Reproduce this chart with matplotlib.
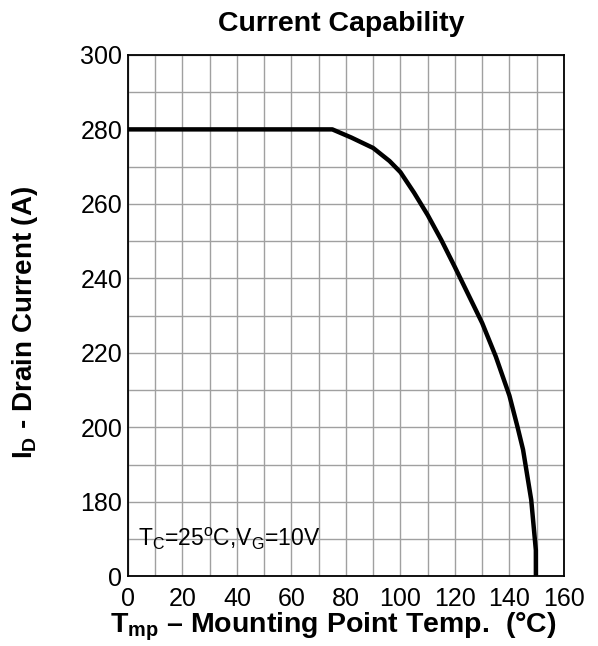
import numpy as np
import matplotlib

matplotlib.use("Agg")
import matplotlib.pyplot as plt

plt.rcParams["font.family"] = ["Liberation Sans", "DejaVu Sans"]
plt.rcParams["mathtext.fontset"] = "custom"
plt.rcParams["mathtext.rm"] = "Liberation Sans"
plt.rcParams["mathtext.bf"] = "Liberation Sans:bold"

# (temp in degC, drain current in A)
temp = [0, 75, 82, 90, 96, 100, 105, 110, 115, 120, 125, 130, 135, 140, 143, 145, 148, 149.7, 150]
current = [280, 280, 277.8, 275, 271.5, 268.5, 263, 257, 250.3, 243, 235.5, 228, 219, 208.5,
           200, 194, 180.5, 167, 0]

x_ticks = list(range(0, 161, 20))
y_ticks = [160, 180, 200, 220, 240, 260, 280, 300]
y_labels = ["0", "180", "200", "220", "240", "260", "280", "300"]

fig = plt.figure(figsize=(5.98, 6.46), dpi=100)
ax = fig.add_axes([0.214, 0.108, 0.729, 0.807])

ax.set_xlim(0, 160)
ax.set_ylim(160, 300)
ax.set_xticks(np.arange(0, 161, 10), minor=True)
ax.set_yticks(np.arange(160, 301, 10), minor=True)
ax.set_xticks(x_ticks)
ax.set_yticks(y_ticks)
ax.set_yticklabels(y_labels)
ax.grid(True, which="both", color="#a0a0a0", lw=1.0)
ax.set_axisbelow(True)
ax.tick_params(which="both", length=0, labelsize=18)
ax.tick_params(axis="x", pad=8)
ax.tick_params(axis="y", pad=4)
for s in ax.spines.values():
    s.set_linewidth(1.3)

ax.plot(temp, current, color="black", lw=3.2, solid_joinstyle="round")

ax.text(3.5, 168, r"$\mathregular{T_C}$=25$\mathregular{^o}$C,$\mathregular{V_G}$=10V", fontsize=16.5)

ax.set_title("Current Capability", fontsize=20.5, fontweight="bold", pad=17, x=0.49)
ax.set_xlabel(r"$\mathbf{T_{mp}}$ – Mounting Point Temp.  (°C)", fontsize=20.5,
              fontweight="bold")
ax.xaxis.set_label_coords(0.472, -0.066)
ax.set_ylabel(r"$\mathbf{I_D}$ - Drain Current (A)", fontsize=20,
              fontweight="bold")
ax.yaxis.set_label_coords(-0.202, 0.486)

fig.savefig("out.png", dpi=100)
